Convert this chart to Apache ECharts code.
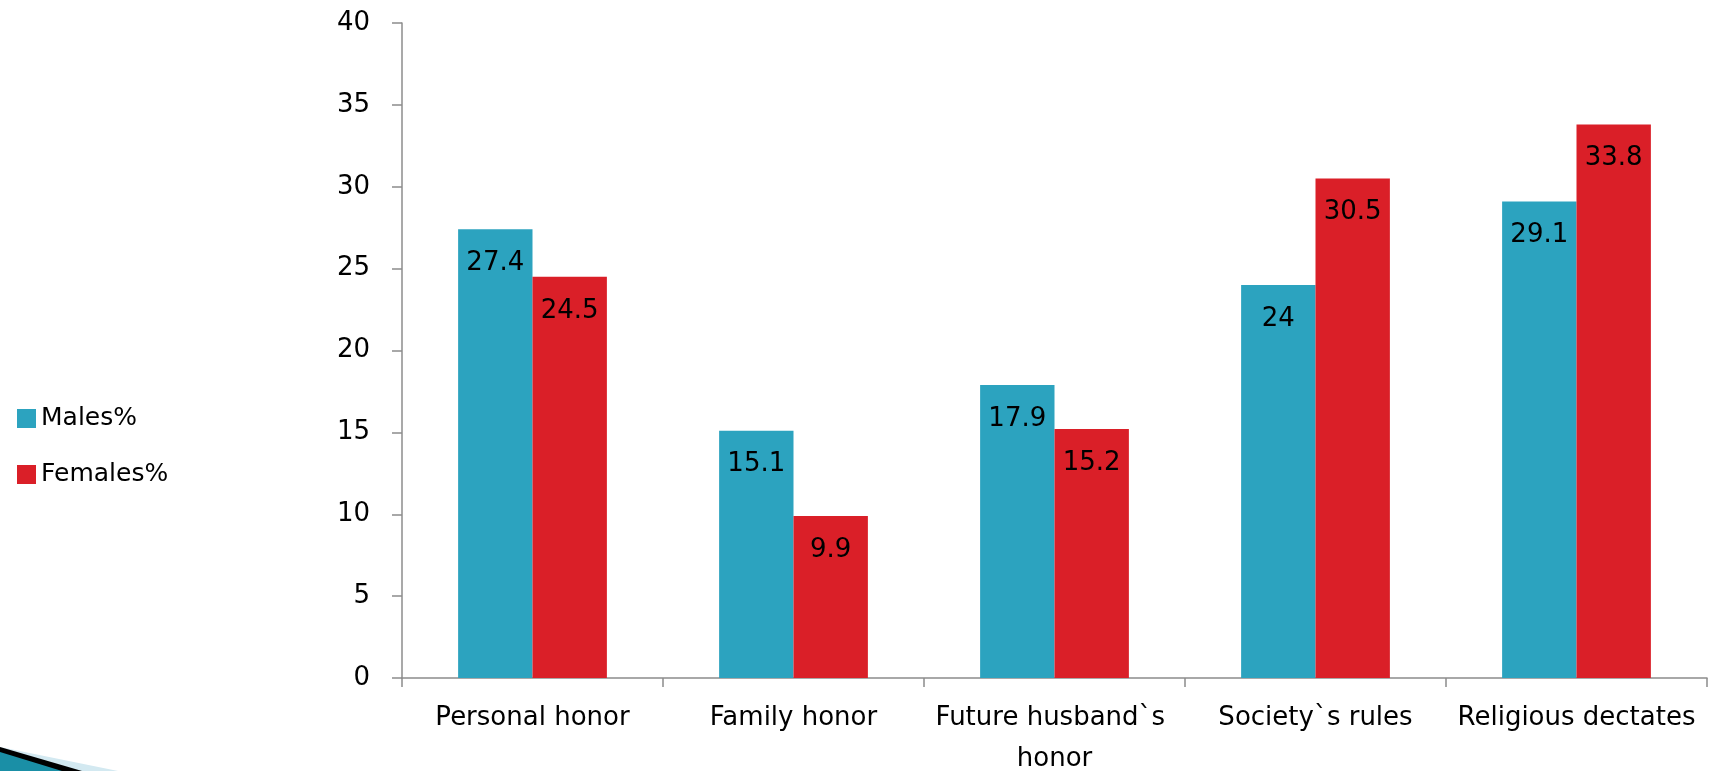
<!DOCTYPE html>
<html>
<head>
<meta charset="utf-8">
<script src="https://cdn.jsdelivr.net/npm/echarts@6/dist/echarts.min.js"></script>
<style>
html,body{margin:0;padding:0;background:#fff;}
#c{width:1713px;height:771px;}
</style>
</head>
<body>
<div id="c"></div>
<script>
const categories = ["Personal honor", "Family honor", "Future husband`s honor", "Society`s rules", "Religious dectates"];
const males = [27.4, 15.1, 17.9, 24, 29.1];
const females = [24.5, 9.9, 15.2, 30.5, 33.8];
const seriesNames = ["Males%", "Females%"];
const yTicks = { min: 0, max: 40, interval: 5 };

const FONT = "DejaVu Sans";
const chart = echarts.init(document.getElementById('c'), null, { renderer: 'canvas' });
const labelStyle = {
  show: true,
  position: 'insideTop',
  distance: 21,
  color: '#000',
  fontFamily: FONT,
  fontSize: 26
};
chart.setOption({
  animation: false,
  backgroundColor: '#fff',
  textStyle: { fontFamily: FONT },
  grid: { left: 402, right: 6, top: 23, bottom: 93, containLabel: false, outerBoundsMode: 'none' },
  legend: {
    orient: 'vertical',
    left: 12,
    top: 401,
    itemWidth: 19,
    itemHeight: 19,
    itemGap: 31,
    icon: 'rect',
    textStyle: { fontFamily: FONT, fontSize: 25, color: '#000' },
    data: seriesNames
  },
  xAxis: {
    type: 'category',
    data: categories,
    axisLine: { lineStyle: { color: '#8c8c8c', width: 1.5 } },
    axisTick: { show: true, length: 9, lineStyle: { color: '#8c8c8c', width: 1.5 } },
    axisLabel: {
      color: '#000', fontFamily: FONT, fontSize: 26, margin: 20,
      lineHeight: 41, width: 255, overflow: 'break', interval: 0
    }
  },
  yAxis: {
    type: 'value',
    min: yTicks.min, max: yTicks.max, interval: yTicks.interval,
    splitLine: { show: false },
    axisLine: { show: true, lineStyle: { color: '#8c8c8c', width: 1.5 } },
    axisTick: { show: true, length: 10, lineStyle: { color: '#8c8c8c', width: 1.5 } },
    axisLabel: { color: '#000', fontFamily: FONT, fontSize: 26, margin: 32, padding: [0, 0, 6, 0] }
  },
  series: [
    {
      name: seriesNames[0], type: 'bar', data: males,
      barGap: '0%', barCategoryGap: '43%',
      itemStyle: { color: '#2ca3bf' },
      label: labelStyle
    },
    {
      name: seriesNames[1], type: 'bar', data: females,
      barGap: '0%', barCategoryGap: '43%',
      itemStyle: { color: '#da1f28' },
      label: labelStyle
    }
  ],
  graphic: [
    { type: 'polygon', silent: true, shape: { points: [[0, 747], [118, 771], [0, 771]] }, style: { fill: '#d3e9f1' } },
    { type: 'polygon', silent: true, shape: { points: [[0, 747], [82, 771], [0, 771]] }, style: { fill: '#000' } },
    { type: 'polygon', silent: true, shape: { points: [[0, 752], [62, 771], [0, 771]] }, style: { fill: '#1a8fa6' } }
  ]
});
</script>
</body>
</html>
